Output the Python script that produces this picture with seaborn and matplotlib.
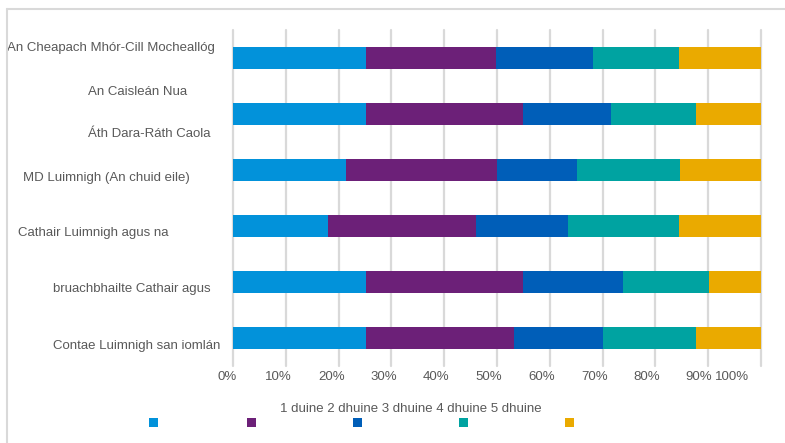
import matplotlib
matplotlib.use("Agg")
import matplotlib.pyplot as plt
import matplotlib.transforms as mtransforms
from matplotlib.patches import Rectangle
from matplotlib.lines import Line2D
import numpy as np
import pandas as pd
import seaborn as sns

# ---- data ----
regions = ["R1", "R2", "R3", "R4", "R5", "R6"]
series = ["1 duine", "2 dhuine", "3 dhuine", "4 dhuine", "5 dhuine"]
one_person = [25.1, 25.1, 21.4, 17.9, 25.1, 25.1]
two_person = [24.8, 29.9, 28.6, 28.1, 29.9, 28.1]
three_person = [18.2, 16.5, 15.2, 17.5, 18.8, 16.8]
four_person = [16.3, 16.2, 19.4, 21.0, 16.4, 17.7]
five_person = [15.6, 12.3, 15.4, 15.5, 9.8, 12.3]
colors = ["#0292DA", "#6C2078", "#005EB8", "#00A3A1", "#EAAA00"]

y_labels = ["An Cheapach Mhór-Cill Mocheallóg", "An Caisleán Nua", "Áth Dara-Ráth Caola",
            "MD Luimnigh (An chuid eile)", "Cathair Luimnigh agus na",
            "bruachbhailte Cathair agus", "Contae Luimnigh san iomlán"]
y_label_pos = [-0.18, 0.60, 1.35, 2.14, 3.13, 4.13, 5.14]
y_label_x = [7, 88, 88, 23, 18, 53, 53]  # left edge, px

x_tick_labels = ["0%", "10%", "20%", "30%", "40%", "50%", "60%", "70%", "80%", "90%", "100%"]
x_tick_label_pos = [-1.1, 8.6, 18.7, 28.5, 38.4, 48.4, 58.4, 68.4, 78.3, 88.2, 94.6]
legend_marker_x = [153.5, 251.5, 357.5, 463.5, 569.5]  # px

sns.set_theme(style="white")
plt.rcParams["font.family"] = ["Liberation Sans", "DejaVu Sans"]

W, H = 785, 443
fig = plt.figure(figsize=(W / 100, H / 100), dpi=100)
ax = fig.add_axes([233 / W, 1 - 366 / H, (761 - 233) / W, (366 - 30) / H])

df = pd.DataFrame({"region": regions, "1 duine": one_person, "2 dhuine": two_person,
                   "3 dhuine": three_person, "4 dhuine": four_person, "5 dhuine": five_person})
cum = df[series].cumsum(axis=1)
for s, c in reversed(list(zip(series, colors))):
    sns.barplot(data=cum.assign(region=regions), x=s, y="region", order=regions,
                color=c, width=0.41, orient="h", ax=ax, saturation=1, linewidth=0, zorder=3)

ax.set_xticks(np.arange(0, 101, 10))
ax.set_xticklabels([])
ax.set_xlim(0, 100)
ax.tick_params(axis="x", which="both", length=0)
ax.set_yticks([])
ax.set_ylim(5.5, -0.5)
ax.set_xlabel("")
ax.set_ylabel("")
ax.grid(axis="x", which="major", color="#D9D9D9", linewidth=1.6, zorder=0)
ax.set_axisbelow(True)
for gl in ax.get_xgridlines():
    gl.set_clip_on(False)
for sp in ax.spines.values():
    sp.set_visible(False)

# x tick labels (drawn slightly offset as in the reference)
xtrans = mtransforms.blended_transform_factory(ax.transData, ax.transAxes)
for lab, xp in zip(x_tick_labels, x_tick_label_pos):
    ax.text(xp, -11 / 336, lab, transform=xtrans, ha="center", va="center",
            fontsize=9.5, color="#595959", clip_on=False)

trans = mtransforms.blended_transform_factory(fig.transFigure, ax.transData)
for lab, yp, xp in zip(y_labels, y_label_pos, y_label_x):
    ax.text(xp / W, yp, lab, transform=trans, ha="left", va="center",
            fontsize=9.5, color="#595959", clip_on=False)

# legend
fig.text(411 / W, 1 - 409 / H, " ".join(series), ha="center", va="center",
         fontsize=9.5, color="#595959")
for xm, c in zip(legend_marker_x, colors):
    fig.patches.append(Rectangle(((xm - 4.5) / W, 1 - 427 / H), 9 / W, 9 / H,
                                 transform=fig.transFigure, facecolor=c, edgecolor="none"))

# outer frame
fig.lines.append(Line2D([7 / W, 7 / W], [0, 1 - 9 / H], transform=fig.transFigure,
                        color="#D9D9D9", linewidth=1.5))
fig.lines.append(Line2D([7 / W, 1], [1 - 9 / H, 1 - 9 / H], transform=fig.transFigure,
                        color="#D9D9D9", linewidth=1.5))

fig.savefig("out.png", dpi=100)
